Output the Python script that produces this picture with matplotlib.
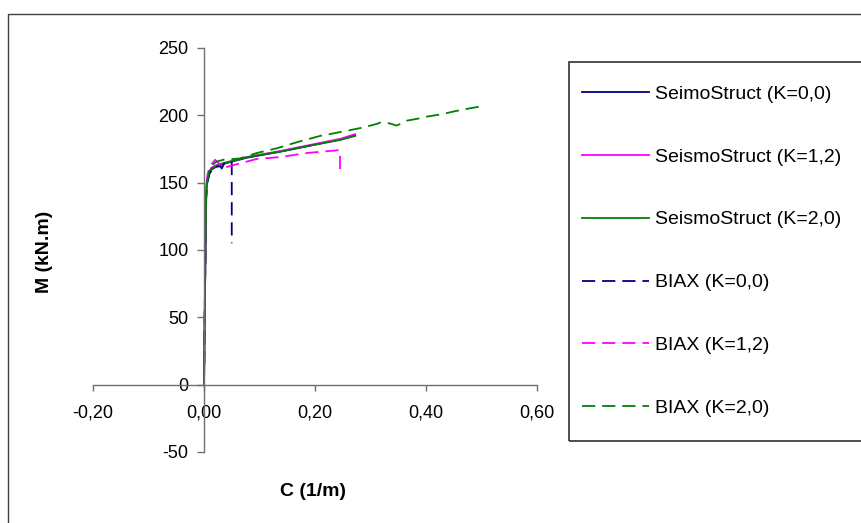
import matplotlib
matplotlib.use("Agg")
import matplotlib.pyplot as plt
from matplotlib.patches import Rectangle
from matplotlib.ticker import FuncFormatter

plt.rcParams['font.family'] = ['Liberation Sans', 'DejaVu Sans']
plt.rcParams['lines.scale_dashes'] = False

# ---- data ----
ss_k00_x = [0, 0.002, 0.0036, 0.005, 0.0096, 0.014, 0.023, 0.035, 0.077, 0.137, 0.197, 0.245, 0.272]
ss_k00_y = [0, 75, 137, 150, 157, 160, 162, 164, 168.5, 173, 178, 182, 185]

ss_k12_x = [0, 0.002, 0.0036, 0.005, 0.009, 0.013, 0.022, 0.035, 0.077, 0.137, 0.197, 0.245, 0.272]
ss_k12_y = [0, 76, 138, 151, 158, 161, 163, 164.5, 169, 173.5, 178.5, 182.5, 186]

ss_k20_x = [0, 0.002, 0.0036, 0.005, 0.0096, 0.014, 0.023, 0.035, 0.077, 0.137, 0.197, 0.245, 0.272]
ss_k20_y = [0, 74, 136, 149.6, 157, 160.7, 162.5, 164.4, 168.9, 173, 178, 181.7, 184.7]

bx_k00_x = [0, 0.002, 0.004, 0.006, 0.01, 0.02, 0.03, 0.032, 0.036, 0.05, 0.05]
bx_k00_y = [0, 80, 140, 150, 157, 162, 162, 160.5, 164, 165.5, 105]

bx_k12_x = [0, 0.002, 0.004, 0.006, 0.01, 0.02, 0.035, 0.053, 0.095, 0.137, 0.185, 0.239, 0.245, 0.245]
bx_k12_y = [0, 80, 142, 155, 162, 167, 161, 163, 167.6, 169, 172, 174, 174, 155.8]

bx_k20_x = [0, 0.002, 0.004, 0.006, 0.011, 0.023, 0.035, 0.065, 0.095, 0.131, 0.167, 0.209, 0.251,
            0.287, 0.311, 0.317, 0.335, 0.347, 0.356, 0.365, 0.389, 0.401, 0.431, 0.449, 0.464, 0.479, 0.497]
bx_k20_y = [0, 78, 140, 152, 162, 165.7, 167, 168, 172, 175.5, 180, 184.7, 188,
            191, 193.6, 194.6, 194, 192.4, 194, 196, 197.8, 199, 201, 202.8, 204, 205.2, 206.5]

labels = ["SeimoStruct (K=0,0)", "SeismoStruct (K=1,2)", "SeismoStruct (K=2,0)",
          "BIAX (K=0,0)", "BIAX (K=1,2)", "BIAX (K=2,0)"]
x_ticks = [-0.2, 0.0, 0.2, 0.4, 0.6]
y_ticks = [-50, 0, 50, 100, 150, 200, 250]

NAVY, MAG, GRN = '#000080', '#FF00FF', '#008000'

W, H = 862, 523
fig = plt.figure(figsize=(W / 100, H / 100), dpi=100)

def fx(px):
    return px / W

def fy(py):
    return 1 - py / H

# outer chart border
fig.patches.append(Rectangle((fx(8), fy(540)), fx(900) - fx(8), fy(14) - fy(540),
                             transform=fig.transFigure, fill=False,
                             edgecolor='#404040', linewidth=1.0))

ax = fig.add_axes([fx(93), fy(452), fx(537) - fx(93), fy(48) - fy(452)])
ax.set_xlim(-0.2, 0.6)
ax.set_ylim(-50, 250)
ax.patch.set_alpha(0)

lw = 1.3
dash = (0, (9.5, 5))
l1, = ax.plot(ss_k00_x, ss_k00_y, color=NAVY, lw=lw, label=labels[0])
l2, = ax.plot(ss_k12_x, ss_k12_y, color=MAG, lw=lw, label=labels[1])
l3, = ax.plot(ss_k20_x, ss_k20_y, color=GRN, lw=lw, label=labels[2])
l4, = ax.plot(bx_k00_x, bx_k00_y, color=NAVY, lw=lw, ls=dash, label=labels[3])
l5, = ax.plot(bx_k12_x, bx_k12_y, color=MAG, lw=lw, ls=dash, label=labels[4])
l6, = ax.plot(bx_k20_x, bx_k20_y, color=GRN, lw=lw, ls=dash, label=labels[5])

for s in ['top', 'right']:
    ax.spines[s].set_visible(False)
ax.spines['left'].set_position(('data', 0))
ax.spines['bottom'].set_position(('data', 0))
for s in ['left', 'bottom']:
    ax.spines[s].set_color('#707070')
    ax.spines[s].set_linewidth(1.0)

ax.set_xticks(x_ticks)
ax.set_yticks(y_ticks)
ax.xaxis.set_major_formatter(FuncFormatter(lambda v, p: f"{v:.2f}".replace('.', ',')))
ax.yaxis.set_major_formatter(FuncFormatter(lambda v, p: f"{int(round(v))}"))
ax.tick_params(axis='x', direction='out', length=4, width=1.0, color='#707070',
               pad=10.5, labelsize=13)
ax.tick_params(axis='y', direction='out', length=5, width=1.0, color='#707070',
               pad=6, labelsize=13)

fig.text(fx(45), fy(252), "M (kN.m)", rotation=90, ha='center', va='center',
         fontsize=14, fontweight='bold')
fig.text(fx(313), fy(491), "C (1/m)", ha='center', va='center',
         fontsize=14, fontweight='bold')

# legend frame
fig.patches.append(Rectangle((fx(569), fy(441)), fx(900) - fx(569), fy(62) - fy(441),
                             transform=fig.transFigure, fill=False,
                             edgecolor='#303030', linewidth=1.2))
leg = fig.legend(handles=[l1, l2, l3, l4, l5, l6], loc='upper left',
                 bbox_to_anchor=(fx(582), fy(85)), bbox_transform=fig.transFigure,
                 frameon=False, borderpad=0, borderaxespad=0, fontsize=14,
                 handlelength=3.45, handletextpad=0.3, labelspacing=2.33)

fig.savefig("out.png", dpi=100)
